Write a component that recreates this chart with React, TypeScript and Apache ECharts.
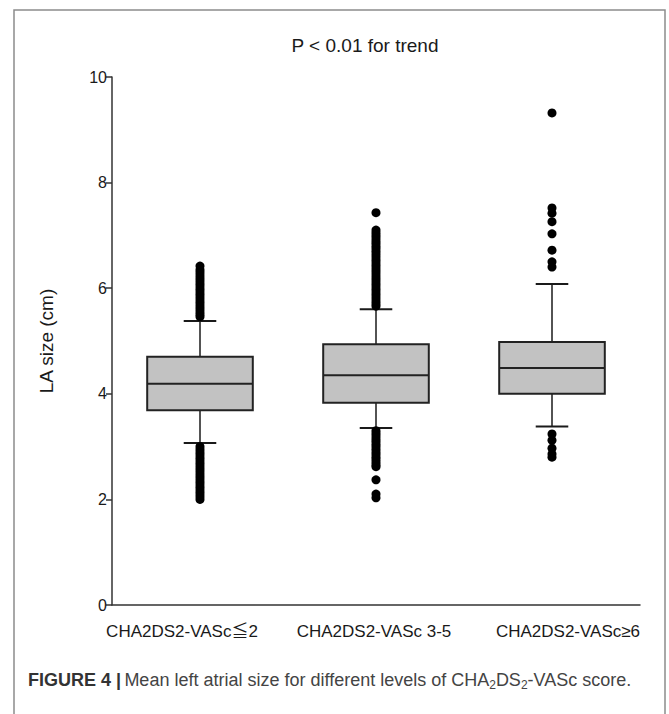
import React, { useEffect, useRef } from "react";
import * as echarts from "echarts";

const categories = ["CHA2DS2-VASc≦2", "CHA2DS2-VASc 3-5", "CHA2DS2-VASc≥6"];
const whiskerLow = [3.07, 3.35, 3.38];
const q1 = [3.69, 3.83, 4.0];
const median = [4.19, 4.35, 4.49];
const q3 = [4.7, 4.94, 4.98];
const whiskerHigh = [5.38, 5.6, 6.08];

const outliersLow1 = [3.0, 2.95, 2.9, 2.85, 2.8, 2.75, 2.7, 2.65, 2.6, 2.55, 2.5, 2.45, 2.4, 2.35, 2.3, 2.25, 2.2, 2.15, 2.1, 2.05, 2.0];
const outliersHigh1 = [5.46, 5.5, 5.55, 5.6, 5.65, 5.7, 5.75, 5.8, 5.85, 5.9, 5.95, 6.0, 6.05, 6.1, 6.15, 6.2, 6.25, 6.3, 6.35, 6.42];
const outliersLow2 = [3.3, 3.25, 3.2, 3.15, 3.1, 3.05, 3.0, 2.95, 2.9, 2.85, 2.8, 2.75, 2.7, 2.65, 2.62, 2.37, 2.1, 2.03];
const outliersHigh2 = [5.66, 5.7, 5.75, 5.8, 5.85, 5.9, 5.95, 6.0, 6.05, 6.1, 6.15, 6.2, 6.25, 6.3, 6.35, 6.4, 6.45, 6.5, 6.55, 6.6, 6.65, 6.7, 6.75, 6.8, 6.85, 6.9, 6.95, 7.0, 7.05, 7.1, 7.43];
const outliersLow3 = [3.24, 3.12, 2.97, 2.86, 2.8];
const outliersHigh3 = [9.32, 7.52, 7.42, 7.26, 7.03, 6.72, 6.5, 6.4];

const yMin = 0;
const yMax = 10;
const yInterval = 2;

const title = "P < 0.01 for trend";
const yName = "LA size (cm)";

const FONT = "Liberation Sans, Arial, sans-serif";
const LABEL_FONT = "Liberation Sans, Noto Sans CJK JP, sans-serif";

export default function App() {
  const ref = useRef<HTMLDivElement>(null);
  useEffect(() => {
    if (!ref.current) return;
    const chart = echarts.init(ref.current, undefined, { renderer: "svg" });
    const boxData = categories.map((_, i) => [i, whiskerLow[i], q1[i], median[i], q3[i], whiskerHigh[i]]);
    const outlierData: number[][] = [];
    [
      [...outliersLow1, ...outliersHigh1],
      [...outliersLow2, ...outliersHigh2],
      [...outliersLow3, ...outliersHigh3],
    ].forEach((arr, i) => arr.forEach((v) => outlierData.push([i, v])));

    const labelStyle = (pad: number[]) => ({
      fontSize: 17,
      color: "#1a1a1a",
      fontFamily: LABEL_FONT,
      padding: pad,
    });

    const option: any = {
      animation: false,
      backgroundColor: "#ffffff",
      textStyle: { fontFamily: FONT },
      grid: { left: 112, right: 29, top: 77, bottom: 109 },
      xAxis: {
        type: "category",
        data: categories,
        boundaryGap: true,
        axisLine: { lineStyle: { color: "#333", width: 1.5 } },
        axisTick: { alignWithLabel: true, length: 6, lineStyle: { color: "#333", width: 1.5 } },
        axisLabel: {
          color: "#1a1a1a",
          fontSize: 17,
          margin: 18,
          interval: 0,
          fontFamily: LABEL_FONT,
          formatter: (v: string, i: number) => `{l${i}|${v}}`,
          rich: {
            l0: labelStyle([0, 36, 0, 0]),
            l1: labelStyle([0, 4, 0, 0]),
            l2: labelStyle([0, 0, 0, 32]),
          },
        },
        splitLine: { show: false },
      },
      yAxis: {
        type: "value",
        min: yMin,
        max: yMax,
        interval: yInterval,
        name: yName,
        nameLocation: "middle",
        nameGap: 56,
        nameTextStyle: { color: "#1a1a1a", fontSize: 19 },
        axisLine: { show: true, lineStyle: { color: "#333", width: 1.5 } },
        axisTick: { show: true, length: 6, lineStyle: { color: "#333", width: 1.5 } },
        axisLabel: { color: "#1a1a1a", fontSize: 16, margin: 5 },
        splitLine: { show: false },
      },
      graphic: [
        {
          type: "rect",
          shape: { x: 14, y: 10, width: 651, height: 730 },
          style: { fill: "none", stroke: "#8c8c8c", lineWidth: 1.5 },
          silent: true,
        },
        {
          type: "text",
          x: 365,
          y: 45,
          style: {
            text: title,
            fontSize: 19,
            fontFamily: FONT,
            fill: "#1a1a1a",
            textAlign: "center",
            textVerticalAlign: "middle",
          },
        },
        {
          type: "text",
          x: 28,
          y: 669,
          style: {
            text: "{b|FIGURE 4 |} {n|Mean left atrial size for different levels of CHA}{s|2}{n|DS}{s|2}{n|-VASc score.}",
            fontFamily: FONT,
            rich: {
              b: { fontSize: 18, fontWeight: "bold", fill: "#333", lineHeight: 22, fontFamily: FONT },
              n: { fontSize: 18, fill: "#444", lineHeight: 22, fontFamily: FONT },
              s: { fontSize: 12, fill: "#444", lineHeight: 12, verticalAlign: "bottom", fontFamily: FONT },
            },
          },
        },
      ],
      series: [
        {
          type: "custom",
          data: boxData,
          encode: { x: 0, y: [1, 2, 3, 4, 5] },
          z: 2,
          renderItem: (params: any, api: any) => {
            const idx = api.value(0);
            const band = api.size([1, 0])[0];
            const bw = band * 0.6;
            const cw = band * 0.185;
            const pLo = api.coord([idx, api.value(1)]);
            const pQ1 = api.coord([idx, api.value(2)]);
            const pMed = api.coord([idx, api.value(3)]);
            const pQ3 = api.coord([idx, api.value(4)]);
            const pHi = api.coord([idx, api.value(5)]);
            const cx = pMed[0];
            const lineStyle = { stroke: "#1a1a1a", lineWidth: 1.5 };
            return {
              type: "group",
              children: [
                { type: "line", shape: { x1: cx, y1: pQ3[1], x2: cx, y2: pHi[1] }, style: lineStyle },
                { type: "line", shape: { x1: cx, y1: pQ1[1], x2: cx, y2: pLo[1] }, style: lineStyle },
                { type: "line", shape: { x1: cx - cw / 2, y1: pHi[1], x2: cx + cw / 2, y2: pHi[1] }, style: { stroke: "#1a1a1a", lineWidth: 2 } },
                { type: "line", shape: { x1: cx - cw / 2, y1: pLo[1], x2: cx + cw / 2, y2: pLo[1] }, style: { stroke: "#1a1a1a", lineWidth: 2 } },
                {
                  type: "rect",
                  shape: { x: cx - bw / 2, y: pQ3[1], width: bw, height: pQ1[1] - pQ3[1] },
                  style: { fill: "#c2c2c2", stroke: "#222", lineWidth: 2 },
                },
                { type: "line", shape: { x1: cx - bw / 2, y1: pMed[1], x2: cx + bw / 2, y2: pMed[1] }, style: { stroke: "#222", lineWidth: 2 } },
              ],
            };
          },
        },
        {
          type: "scatter",
          data: outlierData,
          symbol: "circle",
          symbolSize: 9,
          itemStyle: { color: "#000", opacity: 1 },
          z: 3,
        },
      ],
    };
    chart.setOption(option);
    return () => chart.dispose();
  }, []);
  return <div ref={ref} style={{ position: "fixed", left: 0, top: 0, width: 669, height: 714 }} />;
}
